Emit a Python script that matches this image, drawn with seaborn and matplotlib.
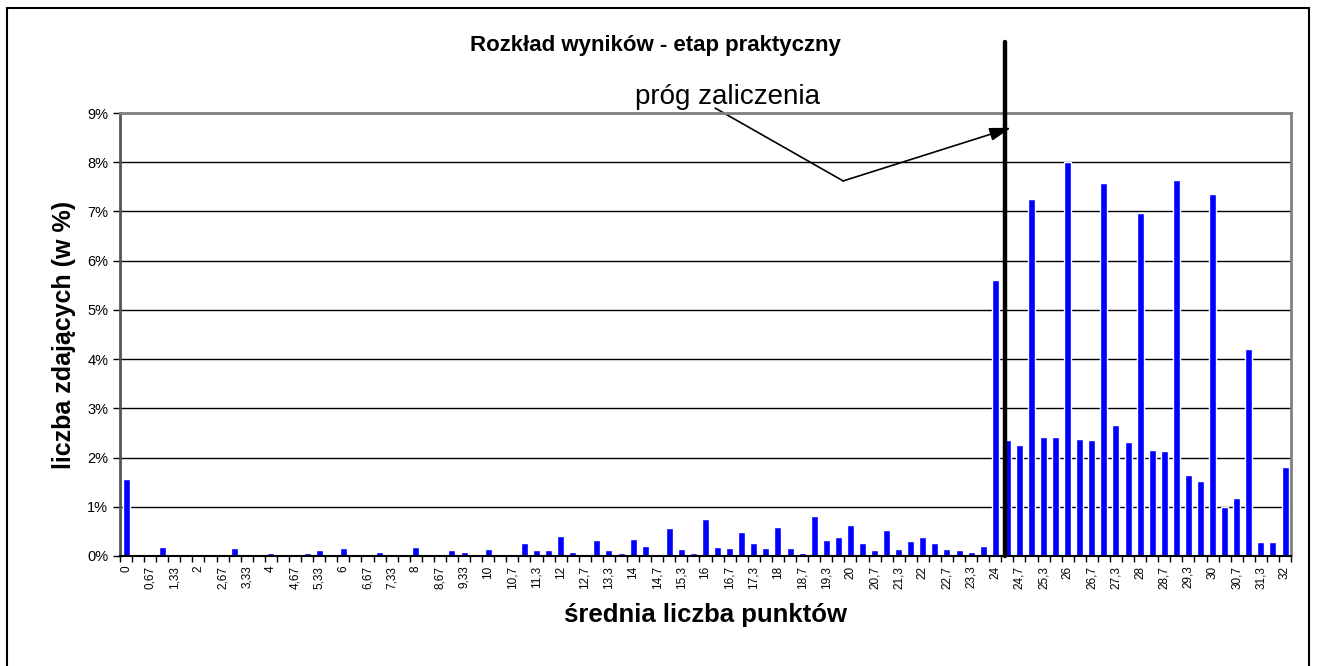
import numpy as np
import matplotlib
matplotlib.use("Agg")
import matplotlib.pyplot as plt
import seaborn as sns
from matplotlib.patches import Rectangle
from matplotlib.ticker import FuncFormatter

# percentage of candidates for each average score (0 to 32 in steps of 1/3)
values = [
    1.57, 0, 0, 0.18, 0, 0, 0.02, 0, 0.04, 0.16, 0, 0.04, 0.06, 0.02, 0.04, 0.06, 0.12,
    0, 0.16, 0, 0.04, 0.08, 0.04, 0.02, 0.18, 0.04, 0.04, 0.12, 0.08, 0.02, 0.14, 0.02, 0.02, 0.27, 0.12,
    0.12, 0.41, 0.08, 0.04, 0.33, 0.12, 0.06, 0.35, 0.20, 0.04, 0.57, 0.14, 0.06, 0.76, 0.18, 0.16, 0.49, 0.27,
    0.16, 0.59, 0.16, 0.06, 0.82, 0.33, 0.39, 0.63, 0.27, 0.12, 0.53, 0.14, 0.31, 0.39, 0.27, 0.14, 0.12, 0.08, 0.20,
    5.61, 2.36, 2.25, 7.25, 2.42, 2.42, 8.00, 2.38, 2.36, 7.58, 2.66, 2.32, 6.97, 2.15, 2.13, 7.64, 1.65, 1.52,
    7.35, 1.00, 1.18, 4.20, 0.28, 0.28, 1.81,
]

# labels shown under every second category
tick_labels = [
    "0", "0,67", "1,33", "2", "2,67", "3,33", "4", "4,67", "5,33", "6", "6,67", "7,33",
    "8", "8,67", "9,33", "10", "10,7", "11,3", "12", "12,7", "13,3", "14", "14,7", "15,3",
    "16", "16,7", "17,3", "18", "18,7", "19,3", "20", "20,7", "21,3", "22", "22,7", "23,3",
    "24", "24,7", "25,3", "26", "26,7", "27,3", "28", "28,7", "29,3", "30", "30,7", "31,3", "32",
]

y_ticks = list(range(0, 10))
threshold_pos = 72.83  # category position of the pass mark line

sns.set_style("white")
plt.rcParams["font.family"] = ["Liberation Sans", "DejaVu Sans"]
for key in ["text.color", "axes.labelcolor", "xtick.color", "ytick.color"]:
    plt.rcParams[key] = "black"

fig = plt.figure(figsize=(13.17, 6.66), dpi=100)
ax = fig.add_axes([0.0911, 0.1652, 0.8892, 0.6651])

cats = np.arange(len(values))
sns.barplot(x=cats, y=values, color="#0000FF", saturation=1, width=0.58, ax=ax)

ax.set_xlim(-0.5, len(values) - 0.5)
ax.set_ylim(0, 9)
ax.set_axisbelow(True)
ax.yaxis.grid(True, color="black", linewidth=1)
ax.set_yticks(y_ticks)
ax.yaxis.set_major_formatter(FuncFormatter(lambda v, p: f"{int(v)}%"))
ax.tick_params(axis="y", direction="out", length=5, width=1, labelsize=10.5, color="black", left=True)

ax.set_xticks(cats[::2])
ax.set_xticklabels(tick_labels, rotation=90, fontsize=8.5)
ax.set_xticks(np.arange(-0.5, len(values), 1), minor=True)
ax.tick_params(axis="x", which="major", length=0, pad=7)
ax.tick_params(axis="x", which="minor", direction="out", length=4, width=1, color="black", bottom=True)

for side in ["top", "right"]:
    ax.spines[side].set_visible(True)
    ax.spines[side].set_color("#808080")
    ax.spines[side].set_linewidth(2)
ax.spines["left"].set_color("#555555")
ax.spines["left"].set_linewidth(2)
ax.spines["bottom"].set_color("black")
ax.spines["bottom"].set_linewidth(1.5)

ax.set_xlabel("średnia liczba punktów", fontsize=18.5, fontweight="bold", labelpad=10)
ax.set_ylabel("liczba zdających (w %)", fontsize=18, fontweight="bold", labelpad=8)

fig.text(0.4975, 0.932, "Rozkład wyników - etap praktyczny", ha="center", va="center",
         fontsize=16, fontweight="bold")

# pass mark line and its label with arrow
ax.plot([threshold_pos, threshold_pos], [0, 10.45], color="black", linewidth=3.2,
        clip_on=False, zorder=5)
ax.text(49.8, 9.33, "próg zaliczenia", ha="center", va="center", fontsize=20)
ax.plot([48.8, 59.4], [9.1, 7.62], color="black", linewidth=1.2, clip_on=False)
ax.annotate("", xy=(73.3, 8.7), xytext=(59.4, 7.62),
            arrowprops=dict(arrowstyle="-|>,head_length=1.3,head_width=0.4",
                            color="black", lw=1.2, shrinkA=0, shrinkB=0),
            annotation_clip=False)

fig.patches.append(Rectangle((0.0053, -0.02), 0.9886, 1.008, transform=fig.transFigure,
                             fill=False, edgecolor="black", linewidth=1.5))

fig.savefig("out.png", dpi=100)
